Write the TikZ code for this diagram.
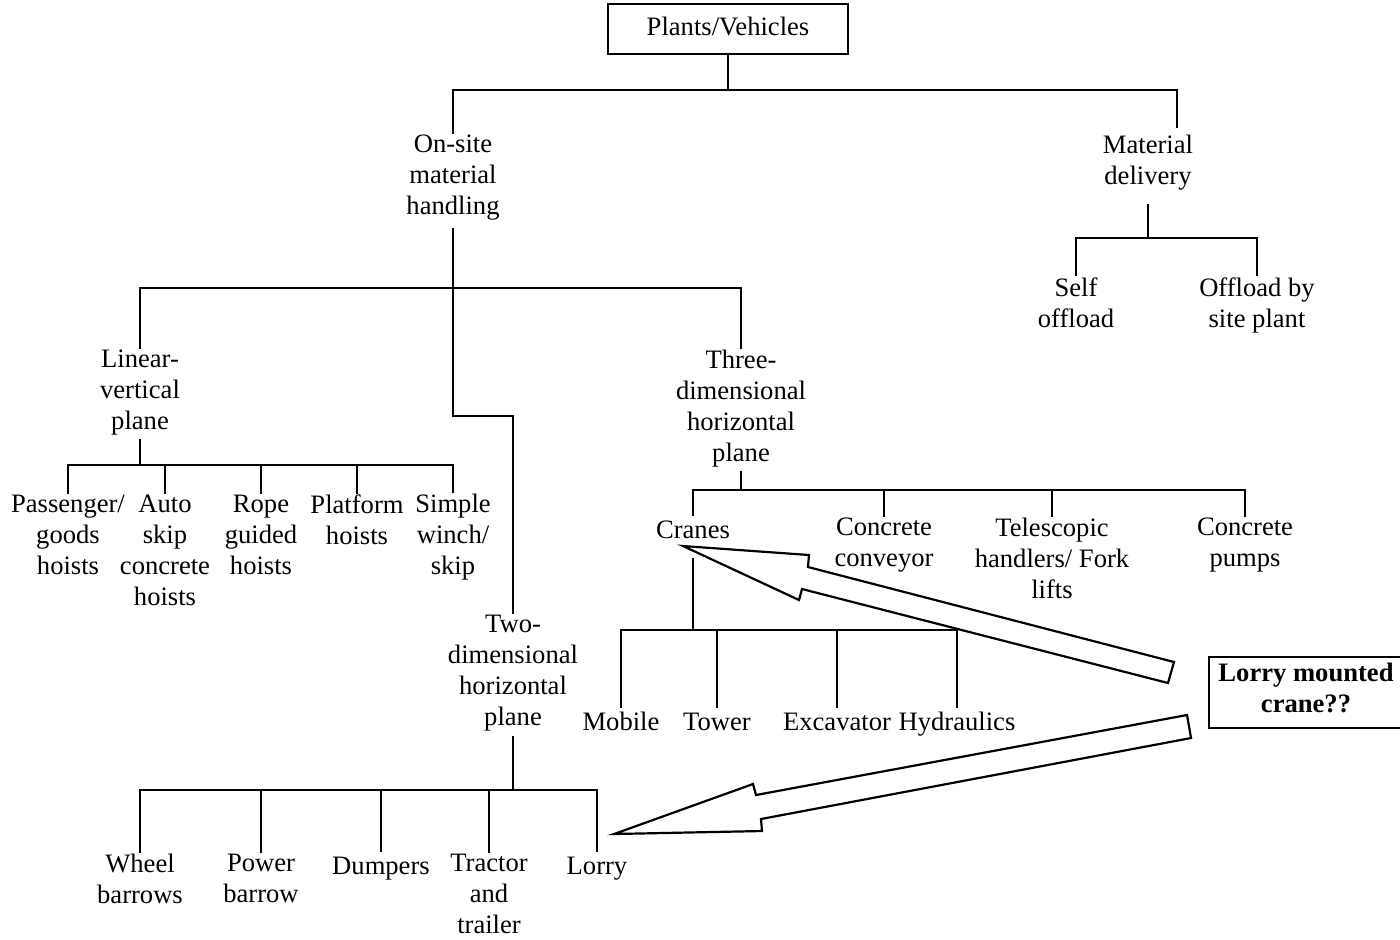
\documentclass[tikz,border=0pt]{standalone}
\usepackage{fontspec}
\setmainfont{Liberation Serif}

\begin{document}
\begin{tikzpicture}[x=0.5pt,y=-0.5pt,line width=1pt,
    lbl/.style={align=center,inner xsep=2pt,inner ysep=0pt,
        font=\fontsize{13.3}{15.5}\selectfont,
        execute at begin node=\strut,execute at end node=\strut},
    boxed/.style={lbl,draw,minimum width=#1,minimum height=25pt},
    blockarrow/.style={draw,line width=1.1pt,line join=miter,fill=white}]
\clip (0,0) rectangle (1400,939);

\node [boxed=120pt] (root) at (728,29) {Plants/Vehicles};
\node [lbl] (onsite) at (453,179) {On-site\\material\\handling};
\node [lbl] (matdel) at (1148,164) {Material\\delivery};
\coordinate (mdin) at (1177,128);
\node [lbl] (selfoff) at (1076,307) {Self\\offload};
\node [lbl] (offload) at (1257,307) {Offload by\\site plant};

\node [lbl] (linvert) at (140,394) {Linear-\\vertical\\plane};
\node [lbl] (threed) at (741,410) {Three-\\dimensional\\horizontal\\plane};
\node [lbl] (twod) at (513,675) {Two-\\dimensional\\horizontal\\plane};

\node [lbl] (passenger) at (68,539) {Passenger/\\goods\\hoists};
\node [lbl] (autoskip) at (165,555) {Auto\\skip\\concrete\\hoists};
\node [lbl] (rope) at (261,539) {Rope\\guided\\hoists};
\node [lbl] (platform) at (357,524) {Platform\\hoists};
\node [lbl] (winch) at (453,539) {Simple\\winch/\\skip};

\node [lbl] (cranes) at (693,532) {Cranes};
\node [lbl] (conveyor) at (884,547) {Concrete\\conveyor};
\node [lbl] (telescopic) at (1052,563) {Telescopic\\handlers/ Fork\\lifts};
\node [lbl] (pumps) at (1245,547) {Concrete\\pumps};

\node [lbl] (mobile) at (621,724) {Mobile};
\node [lbl] (tower) at (717,724) {Tower};
\node [lbl] (excavator) at (837,724) {Excavator};
\node [lbl] (hydraulics) at (957,724) {Hydraulics};

\node [lbl] (wheel) at (140,883) {Wheel\\barrows};
\node [lbl] (power) at (261,883) {Power\\barrow};
\node [lbl] (dumpers) at (381,868) {Dumpers};
\node [lbl] (tractor) at (489,898) {Tractor\\and\\trailer};
\node [lbl] (lorry) at (597,868) {Lorry};

\node [boxed=97pt,minimum height=35.5pt,font=\fontsize{13.3}{15.5}\selectfont\bfseries] (lmc) at (1306,692) {Lorry mounted\\crane??};

\draw (root.south) -- ++(0,35) coordinate (rbar);
\draw (onsite.north) |- (rbar) -| (mdin);

\draw (matdel.south) ++(0,10) -- ++(0,34) coordinate (mdbar);
\draw (selfoff.north) |- (mdbar) -| (offload.north);

\draw (onsite.south) ++(0,4) -- ++(0,60) coordinate (osbar);
\draw (linvert.north) |- (osbar) -| (threed.north);
\draw (osbar) -- ++(0,128) -| (twod.north);

\draw (linvert.south) -- ++(0,26) coordinate (lvbar);
\draw (passenger.north) |- (lvbar) -| (winch.north);
\foreach \n in {autoskip,rope,platform}
    \draw (\n.north) -- (\n.north |- lvbar);

\draw (threed.south) -- ++(0,19) coordinate (tdbar);
\draw (cranes.north) |- (tdbar) -| (pumps.north);
\foreach \n in {conveyor,telescopic}
    \draw (\n.north) -- (\n.north |- tdbar);

\draw (cranes.south) ++(0,9) -- ++(0,72) coordinate (crbar);
\draw (mobile.north) |- (crbar) -| (hydraulics.north);
\foreach \n in {tower,excavator}
    \draw (\n.north) -- (\n.north |- crbar);

\draw (twod.south) -- ++(0,54) coordinate (twbar);
\draw (wheel.north) |- (twbar) -| (lorry.north);
\foreach \n in {power,dumpers,tractor}
    \draw (\n.north) -- (\n.north |- twbar);

\draw [blockarrow] (683,546) -- (809,555) -- (808,567) -- (1174,662)
    -- (1168,683) -- (802,589) -- (799,600) -- cycle;
\draw [blockarrow] (614,834) -- (753,784) -- (756,795) -- (1187,715)
    -- (1191,738) -- (761,819) -- (762,831) -- cycle;
\end{tikzpicture}
\end{document}
